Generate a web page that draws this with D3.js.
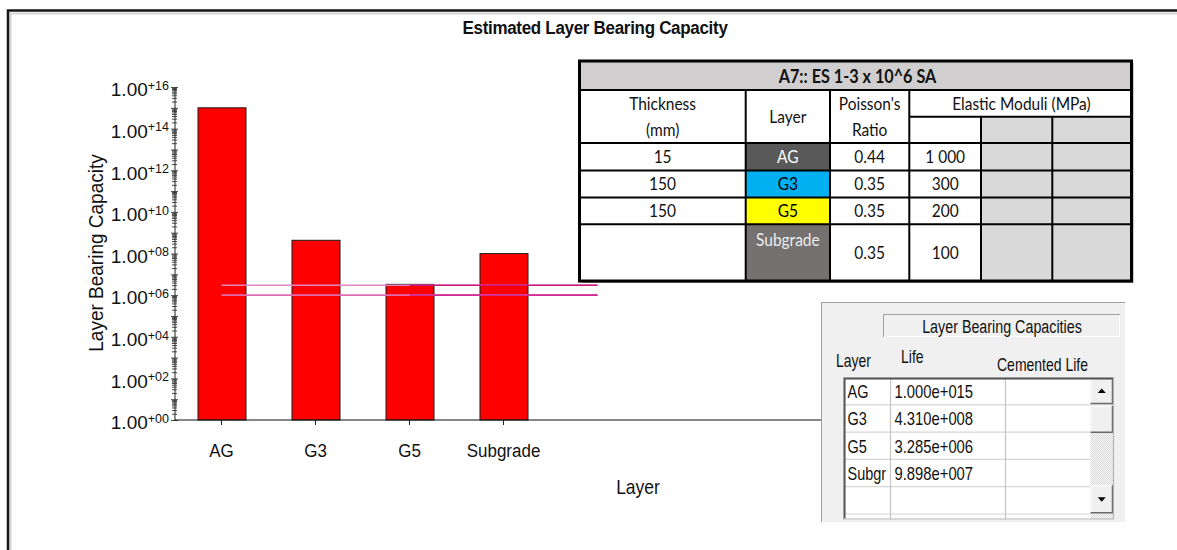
<!DOCTYPE html>
<html>
<head>
<meta charset="utf-8">
<script src="https://cdnjs.cloudflare.com/ajax/libs/d3/7.8.5/d3.min.js"></script>
<style>
  body { margin: 0; background: #fff; }
  svg { display: block; }
  .arial { font-family: "Liberation Sans", Arial, sans-serif; }
  .cal { font-family: Lato, "Open Sans", sans-serif; }
</style>
</head>
<body>
<svg id="chart" width="1177" height="550"></svg>
<script>
// ---- data ----
const layers = ["AG", "G3", "G5", "Subgrade"];
const capacities = [1.000e15, 4.310e8, 3.285e6, 9.898e7];
const trafficLimits = [3e6, 1e6];           // ES 1-3 x 10^6 design traffic band
const yLabelExponents = [0, 2, 4, 6, 8, 10, 12, 14, 16];

const designTitle = "A7:: ES 1-3 x 10^6 SA";
const thicknessMm = ["15", "150", "150", ""];
const poissonRatios = ["0.44", "0.35", "0.35", "0.35"];
const elasticModuliMPa = ["1 000", "300", "200", "100"];

const lifeColumns = ["Layer", "Life", "Cemented Life"];

// ---- styling ----
const layerFill = { AG: "#595959", G3: "#00b0f0", G5: "#ffff00", Subgrade: "#767171" };
const layerInk = { AG: "#ffffff", G3: "#000000", G5: "#000000", Subgrade: "#ececec" };

const W = 1177, H = 550;
const svg = d3.select("#chart");
const defs = svg.append("defs");

// place a text at (x, y) with its glyphs stretched vertically by k
const place = (sel, x, y, k, rot) =>
  sel.attr("transform", `translate(${x},${y})${rot ? ` rotate(${rot})` : ""} scale(1,${k})`);

svg.append("rect").attr("width", W).attr("height", H).attr("fill", "#fff");

// outer chart frame with soft inner shadow
svg.append("path").attr("d", "M10.5,550V13.5H1177").attr("fill", "none")
  .attr("stroke", "#d4d4d4").attr("stroke-width", 2);
svg.append("path").attr("d", "M8,550V10.5H1177").attr("fill", "none")
  .attr("stroke", "#161616").attr("stroke-width", 2.5);

// title
place(svg.append("text").attr("class", "arial")
  .attr("text-anchor", "middle")
  .attr("font-size", 17).attr("font-weight", "bold").attr("fill", "#111")
  .attr("letter-spacing", -0.3)
  .text("Estimated Layer Bearing Capacity"), 595, 34, 1.12);

// ---- scales ----
const x0 = 174.5, step = 94, plotRight = 1100;
const pad = 1 - 48 / step;
const x = d3.scaleBand().domain(layers)
  .range([x0, x0 + step * layers.length])
  .paddingInner(pad).paddingOuter(pad / 2);
const y = d3.scaleLog().domain([1, 1e16]).range([420, 87]);
const centerAt = i => x(layers[0]) + x.bandwidth() / 2 + i * x.step();

// ---- bars ----
svg.append("g").selectAll("rect").data(capacities).join("rect")
  .attr("x", (d, i) => x(layers[i]) + 0.5)
  .attr("y", d => y(d))
  .attr("width", x.bandwidth())
  .attr("height", d => y(1) - y(d))
  .attr("fill", "#ff0000")
  .attr("stroke", "#1a1a1a").attr("stroke-width", 1);

// ---- design traffic limit lines ----
const limitColours = [["#e486c2", "#c8177f"], ["#df6cb3", "#d22c94"]];
const lim = svg.append("g");
trafficLimits.forEach((v, k) => {
  lim.append("line")
    .attr("x1", centerAt(0)).attr("x2", centerAt(4))
    .attr("y1", y(v)).attr("y2", y(v))
    .attr("stroke", limitColours[k][0]).attr("stroke-width", 1.6);
  lim.append("line")
    .attr("x1", centerAt(2)).attr("x2", centerAt(4))
    .attr("y1", y(v)).attr("y2", y(v))
    .attr("stroke", limitColours[k][1]).attr("stroke-width", 1.6);
});

// ---- y axis (log, crossing ticks) ----
const logTicks = [];
for (let e = 0; e < 16; e++) for (let m = 1; m < 10; m++) logTicks.push(m * Math.pow(10, e));
logTicks.push(1e16);

const yAxis = svg.append("g").attr("transform", `translate(${x0},0)`)
  .call(d3.axisLeft(y).tickValues(logTicks).tickFormat("").tickSizeOuter(0));
yAxis.select(".domain").attr("stroke", "#222");
yAxis.selectAll(".tick line")
  .attr("x1", d => (Math.log10(d) % 1 === 0 ? -3.5 : -2.5))
  .attr("x2", d => (Math.log10(d) % 1 === 0 ? 3.5 : 2.5))
  .attr("stroke", "#333").attr("stroke-width", 0.9);

const yl = svg.append("g").attr("class", "arial").attr("fill", "#111");
yLabelExponents.forEach(e => {
  const t = yl.append("text")
    .attr("x", 169).attr("y", y(Math.pow(10, e)) + 9.3)
    .attr("text-anchor", "end");
  t.append("tspan").attr("font-size", 19).text("1.00");
  t.append("tspan").attr("font-size", 12.5).attr("dy", -6.5).text("+" + d3.format("02d")(e));
});

place(svg.append("text").attr("class", "arial")
  .attr("text-anchor", "middle").attr("font-size", 19).attr("fill", "#111")
  .text("Layer Bearing Capacity"), 103, 253, 1.08, -90);

// ---- x axis ----
const xAxis = svg.append("g").attr("transform", `translate(0,${y(1)})`)
  .call(d3.axisBottom(x).tickSize(5).tickSizeOuter(0));
xAxis.select(".domain").remove();
xAxis.selectAll(".tick line").attr("stroke", "#222");
xAxis.selectAll(".tick text").attr("class", "arial")
  .attr("font-size", 17).attr("fill", "#111").attr("y", 0).attr("dy", 0)
  .attr("transform", "translate(0,36.5) scale(1,1.12)");
svg.append("line")
  .attr("x1", x0).attr("x2", plotRight)
  .attr("y1", y(1)).attr("y2", y(1))
  .attr("stroke", "#111").attr("stroke-width", 1.2);

place(svg.append("text").attr("class", "arial")
  .attr("text-anchor", "middle")
  .attr("font-size", 17.5).attr("fill", "#111").text("Layer"), 638, 494, 1.12);

// ---- pavement structure table ----
const colE = [579.5, 745.7, 830, 909.3, 981, 1052.3, 1131.5];
const rowE = [61, 90, 116.7, 143, 170.5, 197.5, 224.3, 281];
const tbl = svg.append("g").attr("class", "cal");

tbl.append("rect").attr("x", colE[0] + 2).attr("y", rowE[0] + 2)
  .attr("width", colE[6] - colE[0]).attr("height", rowE[7] - rowE[0])
  .attr("fill", "#9a9a9a");
tbl.append("rect").attr("x", colE[0]).attr("y", rowE[0])
  .attr("width", colE[6] - colE[0]).attr("height", rowE[7] - rowE[0])
  .attr("fill", "#fff");
tbl.append("rect").attr("x", colE[0]).attr("y", rowE[0])
  .attr("width", colE[6] - colE[0]).attr("height", rowE[1] - rowE[0])
  .attr("fill", "#d0cece");
tbl.append("rect").attr("x", colE[4]).attr("y", rowE[2])
  .attr("width", colE[6] - colE[4]).attr("height", rowE[7] - rowE[2])
  .attr("fill", "#d9d9d9");
layers.forEach((L, i) => {
  tbl.append("rect").attr("x", colE[1]).attr("y", rowE[i + 3])
    .attr("width", colE[2] - colE[1]).attr("height", rowE[i + 4] - rowE[i + 3])
    .attr("fill", layerFill[L]);
});

const grid = [];
[1, 3, 4, 5, 6].forEach(r => grid.push([colE[0], rowE[r], colE[6], rowE[r]]));
grid.push([colE[3], rowE[2], colE[6], rowE[2]]);
[1, 2, 3].forEach(c => grid.push([colE[c], rowE[1], colE[c], rowE[7]]));
[4, 5].forEach(c => grid.push([colE[c], rowE[2], colE[c], rowE[7]]));
tbl.append("g").selectAll("line").data(grid).join("line")
  .attr("x1", d => d[0]).attr("y1", d => d[1]).attr("x2", d => d[2]).attr("y2", d => d[3])
  .attr("stroke", "#000").attr("stroke-width", 2);
tbl.append("rect").attr("x", colE[0]).attr("y", rowE[0])
  .attr("width", colE[6] - colE[0]).attr("height", rowE[7] - rowE[0])
  .attr("fill", "none").attr("stroke", "#000").attr("stroke-width", 3);

const fs = 15.5, kT = 1.16;
const cellText = (cx, cy, s, opts = {}) => {
  const size = opts.size || fs;
  return place(tbl.append("text")
    .attr("text-anchor", "middle").attr("font-size", size)
    .attr("font-weight", opts.bold ? "bold" : null)
    .attr("fill", opts.fill || "#111").text(s), cx, cy + size * 0.36 * kT, kT);
};
const mid = (a, b) => (a + b) / 2;

cellText(mid(colE[0], colE[6]) + 2, mid(rowE[0], rowE[1]) + 0.5, designTitle, { bold: true, size: 16.2 });
cellText(mid(colE[0], colE[1]), 103.5, "Thickness");
cellText(mid(colE[0], colE[1]), 130, "(mm)");
cellText(mid(colE[1], colE[2]), 117, "Layer");
cellText(mid(colE[2], colE[3]), 103.5, "Poisson's");
cellText(mid(colE[2], colE[3]), 130, "Ratio");
cellText(mid(colE[3], colE[6]) + 1, 103.5, "Elastic Moduli (MPa)");

layers.forEach((L, i) => {
  const top = rowE[i + 3], bot = rowE[i + 4];
  const last = i === layers.length - 1;
  const cy = last ? 253 : mid(top, bot);
  cellText(mid(colE[0], colE[1]), cy, thicknessMm[i]);
  cellText(mid(colE[1], colE[2]), last ? 239.5 : cy, L, { fill: layerInk[L] });
  cellText(mid(colE[2], colE[3]), cy, poissonRatios[i]);
  cellText(mid(colE[3], colE[4]), cy, elasticModuliMPa[i]);
});

// ---- "Layer Bearing Capacities" results panel ----
const fmtLife = v => {
  const [m, e] = v.toExponential(3).split("e");
  const sign = e[0] === "-" ? "-" : "+";
  return m + "e" + sign + d3.format("03d")(Math.abs(+e));
};

const kI = 1.3;
const inset = svg.append("g").attr("class", "arial");
inset.append("rect").attr("x", 821).attr("y", 302).attr("width", 304).attr("height", 220)
  .attr("fill", "#f0f0f0");
inset.append("path").attr("d", "M821.5,522V302.5H1125").attr("fill", "none").attr("stroke", "#a0a0a0");

// caption box
inset.append("path").attr("d", "M883.5,337V314.5H1120").attr("fill", "none").attr("stroke", "#a0a0a0");
inset.append("path").attr("d", "M884,336.5H1119.5V315").attr("fill", "none").attr("stroke", "#ffffff");
place(inset.append("text").attr("text-anchor", "middle")
  .attr("font-size", 14.3).attr("fill", "#111").text("Layer Bearing Capacities"), 1002, 332.5, kI);

// column headers
const headPos = [[836, 366.5], [901, 362.5], [997, 370.5]];
lifeColumns.forEach((c, i) => {
  place(inset.append("text")
    .attr("font-size", 14).attr("fill", "#111").text(c), headPos[i][0], headPos[i][1], kI);
});

// list grid
const gL = 843, gT = 377, gR = 1114, gB = 519.5, rowH = 27.3, rowTop = 377.5;
const colX = [gL, 890.5, 1005.5, 1090.5];
inset.append("rect").attr("x", gL).attr("y", gT).attr("width", gR - gL).attr("height", gB - gT)
  .attr("fill", "#fff");
const nRows = 6;
for (let r = 1; r < nRows; r++) {
  inset.append("line").attr("x1", gL + 2).attr("x2", colX[3])
    .attr("y1", rowTop + r * rowH).attr("y2", rowTop + r * rowH)
    .attr("stroke", "#d6d6d6").attr("stroke-width", 1.2);
}
[colX[1], colX[2]].forEach(cx => {
  inset.append("line").attr("x1", cx).attr("x2", cx).attr("y1", gT).attr("y2", gB)
    .attr("stroke", "#c4c4c4").attr("stroke-width", 1.2);
});

// layer names are cut to the width of their list column, as the list control does
const layerColWidth = colX[1] - gL - 5;
layers.forEach((L, i) => {
  const cy = rowTop + (i + 0.5) * rowH + 5.4 * kI;
  const t = place(inset.append("text").attr("font-size", 14.5).attr("fill", "#111").text(L), 847.5, cy, kI);
  let s = L;
  while (s.length > 1 && t.node().getComputedTextLength() > layerColWidth) {
    s = s.slice(0, -1);
    t.text(s);
  }
  place(inset.append("text")
    .attr("font-size", 14.8).attr("fill", "#111").text(fmtLife(capacities[i])), 894.5, cy, kI);
});

// scrollbar
const pat = defs.append("pattern").attr("id", "track")
  .attr("width", 2).attr("height", 2).attr("patternUnits", "userSpaceOnUse");
pat.append("rect").attr("width", 2).attr("height", 2).attr("fill", "#f4f4f4");
pat.append("rect").attr("width", 1).attr("height", 1).attr("fill", "#dcdcdc");
pat.append("rect").attr("x", 1).attr("y", 1).attr("width", 1).attr("height", 1).attr("fill", "#dcdcdc");

const sbX = colX[3], sbW = gR - 1 - colX[3];
inset.append("rect").attr("x", sbX).attr("y", gT).attr("width", sbW).attr("height", gB - gT)
  .attr("fill", "url(#track)");
const button = (top, h) => {
  inset.append("rect").attr("x", sbX).attr("y", top).attr("width", sbW).attr("height", h)
    .attr("fill", "#f0f0f0");
  inset.append("path").attr("d", `M${sbX + 0.5},${top + h}V${top + 0.5}H${sbX + sbW}`)
    .attr("fill", "none").attr("stroke", "#ffffff");
  inset.append("path").attr("d", `M${sbX},${top + h - 0.5}H${sbX + sbW - 0.5}V${top}`)
    .attr("fill", "none").attr("stroke", "#696969").attr("stroke-width", 1.5);
};
button(rowTop + 0.5, 26);
button(rowTop + rowH + 1, 27);
button(rowTop + 4 * rowH - 1.5, 28);
const upC = [sbX + sbW / 2, rowTop + 13.5];
const dnC = [sbX + sbW / 2, rowTop + 4 * rowH + 12.5];
inset.append("path")
  .attr("d", `M${upC[0] - 4},${upC[1] + 2}L${upC[0] + 4},${upC[1] + 2}L${upC[0]},${upC[1] - 2.5}Z`)
  .attr("fill", "#000");
inset.append("path")
  .attr("d", `M${dnC[0] - 4},${dnC[1] - 2}L${dnC[0] + 4},${dnC[1] - 2}L${dnC[0]},${dnC[1] + 2.5}Z`)
  .attr("fill", "#000");

// sunken list border
inset.append("path").attr("d", `M${gL + 0.5},${gB}V${gT + 0.5}H${gR}`).attr("fill", "none")
  .attr("stroke", "#a0a0a0");
inset.append("path").attr("d", `M${gL + 1.8},${gB - 1}V${gT + 1.8}H${gR - 1}`).attr("fill", "none")
  .attr("stroke", "#505050").attr("stroke-width", 1.5);
inset.append("path").attr("d", `M${gL + 1},${gB - 0.5}H${gR - 0.5}V${gT}`).attr("fill", "none")
  .attr("stroke", "#b4b4b4").attr("stroke-width", 1.2);
</script>
</body>
</html>
